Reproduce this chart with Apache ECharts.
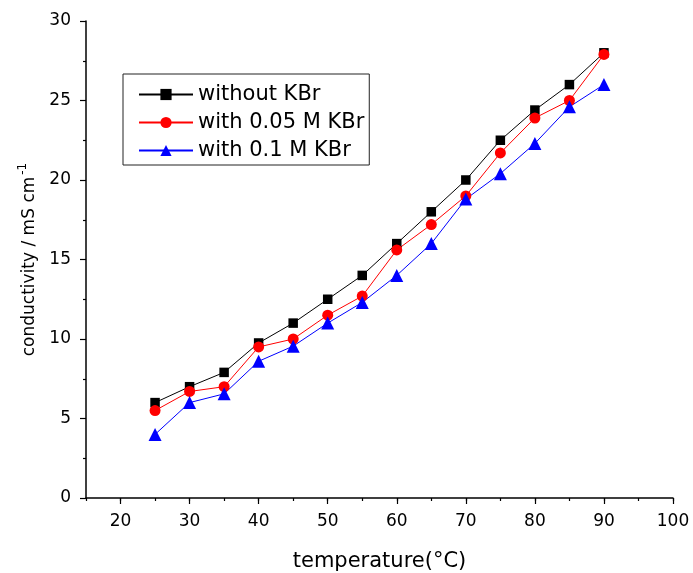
<!DOCTYPE html>
<html>
<head>
<meta charset="utf-8">
<script src="https://cdn.jsdelivr.net/npm/echarts@6/dist/echarts.min.js"></script>
<style>html,body{margin:0;padding:0;background:#fff}#c{width:693px;height:573px}</style>
</head>
<body>
<div id="c"></div>
<script>
var temperatures = [25, 30, 35, 40, 45, 50, 55, 60, 65, 70, 75, 80, 85, 90];
var withoutKBr = [6.0, 7.0, 7.9, 9.75, 11.0, 12.5, 14.0, 16.0, 18.0, 20.0, 22.5, 24.4, 26.0, 28.0];
var with005KBr = [5.5, 6.7, 7.0, 9.5, 10.0, 11.5, 12.7, 15.6, 17.2, 19.0, 21.7, 23.9, 25.0, 27.9];
var with01KBr = [4.0, 6.0, 6.55, 8.6, 9.55, 11.0, 12.3, 14.0, 16.0, 18.8, 20.4, 22.3, 24.6, 26.0];
var seriesNames = ['without KBr', 'with 0.05 M KBr', 'with 0.1 M KBr'];
var xTickLabels = [20, 30, 40, 50, 60, 70, 80, 90, 100];
var yTickLabels = [0, 5, 10, 15, 20, 25, 30];

function pairs(xs, ys) { return xs.map(function (x, i) { return [x, ys[i]]; }); }

var wide = 'DejaVu Sans, sans-serif';
var chart = echarts.init(document.getElementById('c'), null, {renderer: 'canvas'});
chart.setOption({
  animation: false,
  backgroundColor: '#fff',
  grid: {left: 86, right: 20, top: 21, bottom: 75, containLabel: false, outerBoundsMode: 'none'},
  legend: {
    orient: 'vertical', left: 123, top: 74,
    padding: [10, 5, 4, 15],
    borderColor: '#222', borderWidth: 1,
    itemWidth: 54, itemHeight: 14, itemGap: 7,
    textStyle: {fontFamily: wide, fontSize: 21, color: '#000'},
    data: seriesNames
  },
  xAxis: [{
    type: 'value', min: 15, max: 100, interval: 5, position: 'bottom',
    axisLine: {show: true, lineStyle: {color: '#000', width: 1.5}},
    axisTick: {show: true, inside: false, length: 3, lineStyle: {color: '#000', width: 1.2}},
    axisLabel: {show: true, margin: 15, fontFamily: wide, fontSize: 17, color: '#000',
      customValues: xTickLabels},
    splitLine: {show: false},
    name: 'temperature(\u00b0C)', nameLocation: 'middle', nameGap: 53,
    nameTextStyle: {fontFamily: wide, fontSize: 21, color: '#000'}
  }, {
    type: 'value', min: 15, max: 100, position: 'bottom',
    axisLine: {show: false},
    axisTick: {show: true, inside: false, length: 6, customValues: xTickLabels, lineStyle: {color: '#000', width: 1.2}},
    axisLabel: {show: false},
    splitLine: {show: false}
  }],
  yAxis: {
    type: 'value', min: 0, max: 30, interval: 5,
    axisLine: {show: true, lineStyle: {color: '#000', width: 1.5}},
    axisTick: {show: true, inside: false, length: 6, lineStyle: {color: '#000', width: 1.2}},
    minorTick: {show: true, splitNumber: 2, length: 3, lineStyle: {color: '#000', width: 1.2}},
    axisLabel: {margin: 15, fontFamily: wide, fontSize: 17, color: '#000'},
    splitLine: {show: false},
    name: '{a|conductivity / mS cm}{s|-1}', nameLocation: 'middle', nameGap: 38, nameRotate: 90,
    nameTextStyle: {fontFamily: wide, fontSize: 17, color: '#000',
      rich: {a: {fontFamily: wide, fontSize: 17, color: '#000'},
             s: {fontFamily: wide, fontSize: 12, color: '#000', verticalAlign: 'top', padding: [0, 0, 14, 2]}}}
  },
  series: [{
    name: seriesNames[0], type: 'line', xAxisIndex: 0, data: pairs(temperatures, withoutKBr),
    symbol: 'rect', symbolSize: 9.5, lineStyle: {color: '#000', width: 1}, itemStyle: {color: '#000'}
  }, {
    name: seriesNames[1], type: 'line', xAxisIndex: 0, data: pairs(temperatures, with005KBr),
    symbol: 'circle', symbolSize: 11, lineStyle: {color: '#ff0000', width: 1}, itemStyle: {color: '#ff0000'}
  }, {
    name: seriesNames[2], type: 'line', xAxisIndex: 0, data: pairs(temperatures, with01KBr),
    symbol: 'triangle', symbolSize: 13, lineStyle: {color: '#0000ff', width: 1}, itemStyle: {color: '#0000ff'}
  }]
});
</script>
</body>
</html>
